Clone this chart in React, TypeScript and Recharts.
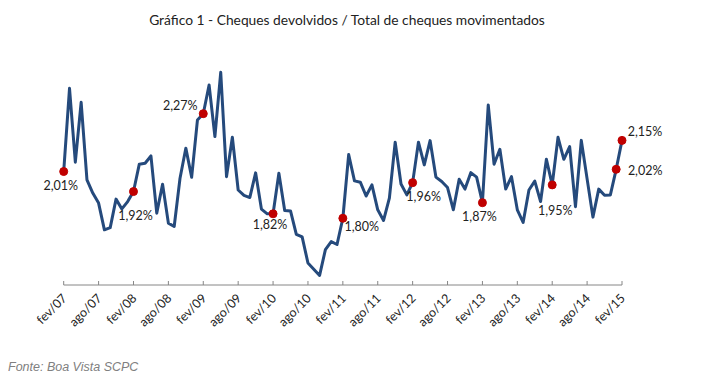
import { LineChart, Line, XAxis, YAxis } from "recharts";

const MONTHS = ["jan", "fev", "mar", "abr", "mai", "jun", "jul", "ago", "set", "out", "nov", "dez"];

// fev/07 .. fev/15
const categories: string[] = [];
for (let y = 7; y <= 15; y++) {
  for (let m = 0; m < 12; m++) {
    if (y === 7 && m < 1) continue;
    if (y === 15 && m > 1) continue;
    categories.push(`${MONTHS[m]}/${String(y).padStart(2, "0")}`);
  }
}

const ratio = [
  2.01, 2.384, 2.052, 2.321, 1.972, 1.913, 1.868, 1.748, 1.758, 1.886, 1.842, 1.875,
  1.92, 2.043, 2.047, 2.08, 1.823, 1.953, 1.778, 1.763, 1.98, 2.115, 1.984, 2.242,
  2.27, 2.399, 2.167, 2.456, 1.987, 2.164, 1.927, 1.903, 1.893, 2.004, 1.841, 1.82,
  1.82, 2.002, 1.835, 1.833, 1.728, 1.716, 1.599, 1.571, 1.543, 1.659, 1.695, 1.682,
  1.8, 2.086, 1.968, 1.962, 1.9, 1.95, 1.838, 1.79, 1.89, 2.142, 1.954, 1.905,
  1.96, 2.142, 2.04, 2.149, 1.985, 1.965, 1.938, 1.838, 1.975, 1.931, 2.005, 1.985,
  1.87, 2.309, 2.043, 2.11, 1.931, 1.987, 1.838, 1.781, 1.927, 1.967, 1.875, 2.065,
  1.95, 2.164, 2.065, 2.122, 1.852, 2.15, 1.977, 1.805, 1.931, 1.903, 1.905, 2.02,
  2.15,
];

// months that get a red marker and a value label
const highlighted = [0, 12, 24, 36, 48, 60, 72, 84, 95, 96];

const data = categories.map((month, i) => ({ month, ratio: ratio[i] }));

const FONT = "Lato, 'Open Sans', sans-serif";

// label offset from the marker (text centre)
const labelOffset: Record<number, [number, number]> = {
  0: [-3, 14],
  12: [2, 24],
  24: [-23, -8],
  36: [-3, 11],
  48: [19, 8],
  60: [11, 14],
  72: [-3, 14],
  84: [3, 26],
  95: [29, 1],
  96: [23, -9],
};

const fmt = (v: number) => `${v.toFixed(2).replace(".", ",")}%`;

function Marker(props: any) {
  const { cx, cy, index, value } = props;
  if (!highlighted.includes(index)) return <g key={`d${index}`} />;
  const [dx, dy] = labelOffset[index];
  const v = Array.isArray(value) ? value[1] : value;
  return (
    <g key={`d${index}`}>
      <circle cx={cx} cy={cy} r={4} fill="#C00000" stroke="#C00000" />
      <text
        x={cx + dx}
        y={cy + dy}
        textAnchor="middle"
        dominantBaseline="central"
        fontSize={12.5}
        fontFamily={FONT}
        fill="#222"
      >
        {fmt(v)}
      </text>
    </g>
  );
}

function MonthTick({ x, y, payload }: any) {
  const ax = x + 4;
  const ay = y + 14;
  return (
    <g>
      <line x1={x} x2={x} y1={y - 4} y2={y} stroke="#868686" />
      <text
        x={ax}
        y={ay}
        textAnchor="end"
        transform={`rotate(-45 ${ax} ${ay})`}
        fontSize={12.5}
        fontFamily={FONT}
        fill="#222"
      >
        {payload.value}
      </text>
    </g>
  );
}

export default function App() {
  return (
    <div style={{ position: "relative", width: 699, height: 366, background: "#fff" }}>
      <div
        style={{
          position: "absolute",
          left: 0,
          top: 3,
          width: 678,
          textAlign: "center",
          fontFamily: FONT,
          fontSize: 13.8,
          color: "#222",
          whiteSpace: "nowrap",
        }}
      >
        Gráfico 1 - Cheques devolvidos / Total de cheques movimentados
      </div>
      <LineChart
        width={699}
        height={366}
        data={data}
        margin={{ top: 54.5, right: 85, bottom: 29, left: 55.7 }}
      >
        <YAxis hide domain={[1.5, 2.5]} />
        <XAxis
          dataKey="month"
          interval={5}
          height={60}
          tickSize={0}
          tickMargin={0}
          tickLine={false}
          axisLine={{ stroke: "#868686" }}
          tick={<MonthTick />}
        />
        <Line
          type="linear"
          dataKey="ratio"
          stroke="#254A7C"
          strokeWidth={3}
          strokeLinejoin="round"
          dot={Marker}
          activeDot={false}
          isAnimationActive={false}
        />
      </LineChart>
      <div
        style={{
          position: "absolute",
          left: 0,
          top: 352,
          fontFamily: "'Liberation Sans', Arial, sans-serif",
          fontSize: 12.5,
          lineHeight: "15px",
          fontStyle: "italic",
          color: "#808080",
          whiteSpace: "nowrap",
        }}
      >
        Fonte: Boa Vista SCPC
      </div>
    </div>
  );
}
